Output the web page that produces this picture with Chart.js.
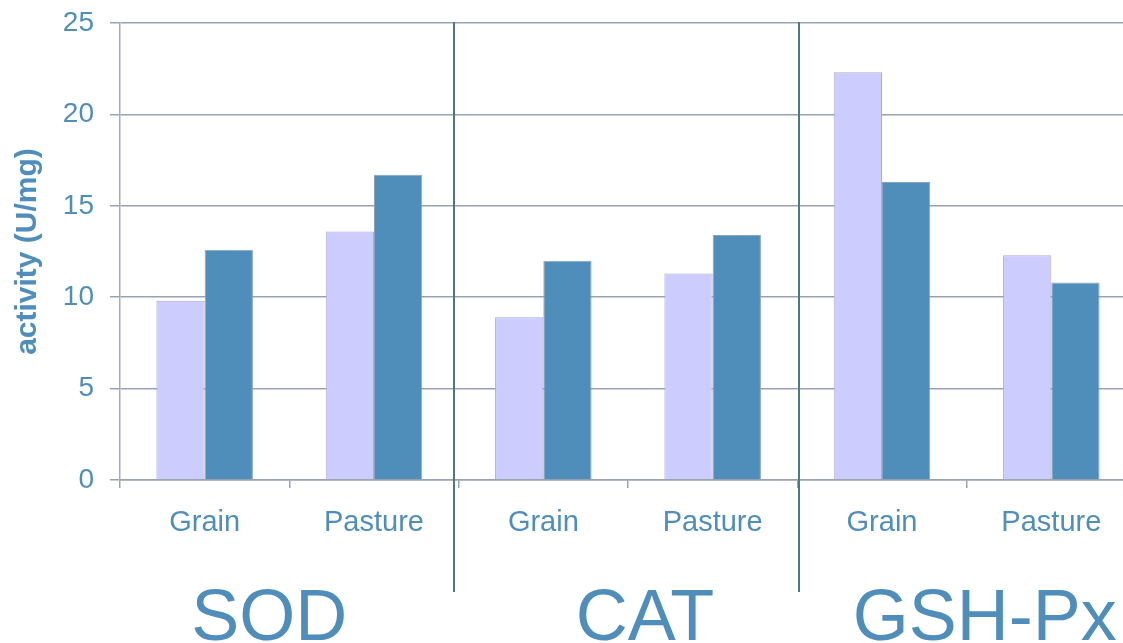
<!DOCTYPE html>
<html>
<head>
<meta charset="utf-8">
<script src="https://cdn.jsdelivr.net/npm/chart.js@4/dist/chart.umd.min.js"></script>
<style>
  html, body { margin: 0; padding: 0; overflow: hidden; background: #ffffff; }
  #wrap { position: relative; width: 1140px; height: 643px; }
</style>
</head>
<body>
<div id="wrap"><canvas id="c"></canvas></div>
<script>
// ---- data ----
const categories = ['Grain', 'Pasture', 'Grain', 'Pasture', 'Grain', 'Pasture'];
const groups = ['SOD', 'CAT', 'GSH-Px'];
const seriesLight = [9.8, 13.6, 8.9, 11.3, 22.3, 12.3];
const seriesDark = [12.6, 16.7, 12.0, 13.4, 16.3, 10.8];
const yTicks = [0, 5, 10, 15, 20, 25];
const yTitle = 'activity (U/mg)';

// ---- style ----
const TEXT = '#4F8EBB';
const GRID = '#97A3B0';
const SEP = '#4F787E';
const FONT = '"Liberation Sans", Arial, sans-serif';

const groupPlugin = {
  id: 'groups',
  afterDraw(chart) {
    const ctx = chart.ctx;
    const x = chart.scales.x;
    const sepOffsets = [-4.5, 2];
    ctx.save();
    ctx.strokeStyle = SEP;
    ctx.lineWidth = 2;
    for (let g = 1; g < groups.length; g++) {
      const px = Math.round(x.getPixelForValue(2 * g - 0.5) + sepOffsets[g - 1]);
      ctx.beginPath();
      ctx.moveTo(px, 22);
      ctx.lineTo(px, 592);
      ctx.stroke();
    }
    const labelOffsets = [-20, 17, 18];
    ctx.fillStyle = TEXT;
    ctx.font = '72px ' + FONT;
    ctx.textAlign = 'center';
    ctx.textBaseline = 'alphabetic';
    groups.forEach((name, g) => {
      const cx = x.getPixelForValue(2 * g + 0.5) + labelOffsets[g];
      ctx.fillText(name, cx, 640);
    });
    ctx.restore();
  }
};

new Chart(document.getElementById('c'), {
  type: 'bar',
  data: {
    labels: categories,
    datasets: [
      {
        label: 'Series 1',
        data: seriesLight,
        backgroundColor: '#CCCCFF',
        borderColor: '#ABABD0',
        borderWidth: 1,
        categoryPercentage: 0.57,
        barPercentage: 1.0
      },
      {
        label: 'Series 2',
        data: seriesDark,
        backgroundColor: '#4F8EBA',
        borderColor: '#8AA3BC',
        borderWidth: 1,
        categoryPercentage: 0.57,
        barPercentage: 1.0
      }
    ]
  },
  options: {
    responsive: true,
    maintainAspectRatio: false,
    animation: false,
    layout: { padding: { top: 23, right: 4, left: 0, bottom: 0 } },
    plugins: { legend: { display: false }, tooltip: { enabled: false } },
    scales: {
      x: {
        grid: {
          offset: true,
          drawOnChartArea: false,
          drawTicks: true,
          tickLength: 8,
          color: GRID,
          lineWidth: 1.5
        },
        border: { color: GRID, width: 1.5 },
        ticks: {
          color: TEXT,
          font: { family: FONT, size: 29 },
          padding: 18,
          maxRotation: 0,
          autoSkip: false
        },
        afterFit(scale) {
          scale.height = 163;
          scale.paddingLeft = 0;
          scale.paddingRight = 0;
        }
      },
      y: {
        min: 0,
        max: 25,
        afterBuildTicks(scale) { scale.ticks = yTicks.map(v => ({ value: v })); },
        grid: { color: GRID, lineWidth: 1.5, tickLength: 10 },
        border: { color: '#A3AEBD', width: 1.5 },
        ticks: {
          color: TEXT,
          font: { family: FONT, size: 28 },
          padding: 16
        },
        title: {
          display: true,
          text: yTitle,
          color: TEXT,
          font: { family: FONT, size: 30, weight: 'bold' },
          padding: { top: 10, bottom: 0 }
        },
        afterFit(scale) {
          scale.width = 120;
          scale.paddingTop = 0;
          scale.paddingBottom = 0;
        }
      }
    }
  },
  plugins: [groupPlugin]
});
</script>
</body>
</html>
